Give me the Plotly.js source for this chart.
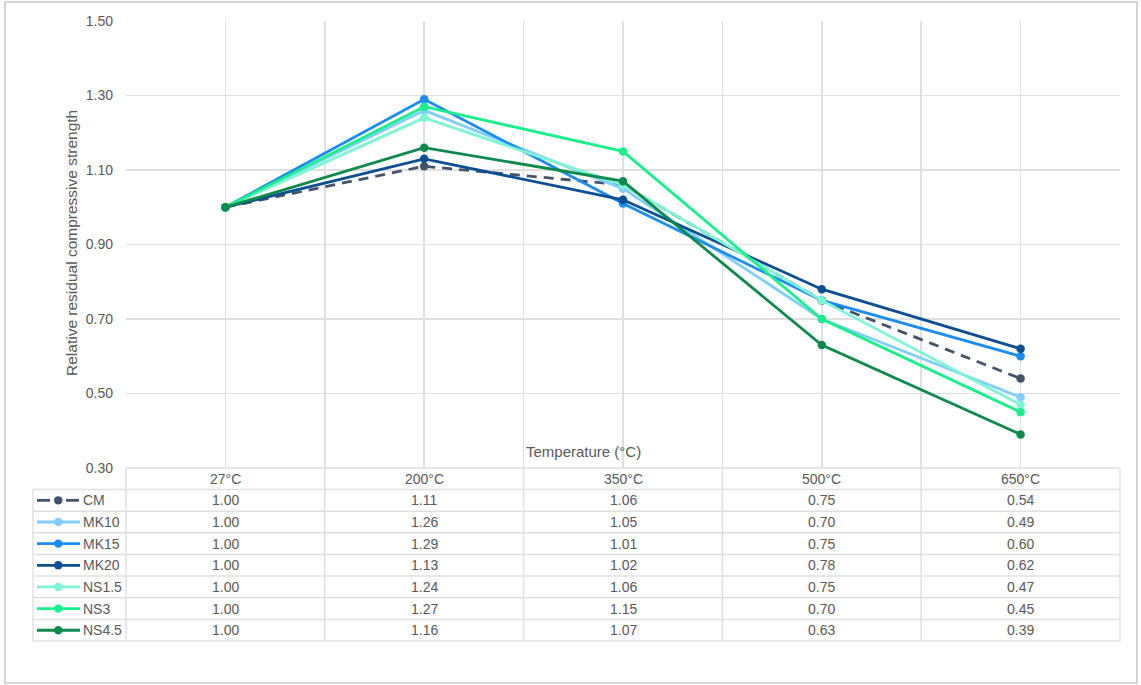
<!DOCTYPE html>
<html>
<head>
<meta charset="utf-8">
<script src="https://cdn.plot.ly/plotly-3.0.1.min.js"></script>
<style>html,body{margin:0;padding:0;background:#fff;}#chart{width:1141px;height:685px;}</style>
</head>
<body>
<div id="chart"></div>
<script>
// ---- data ----
const categories = ["27°C", "200°C", "350°C", "500°C", "650°C"];
const seriesNames = ["CM", "MK10", "MK15", "MK20", "NS1.5", "NS3", "NS4.5"];
const CM    = [1.00, 1.11, 1.06, 0.75, 0.54];
const MK10  = [1.00, 1.26, 1.05, 0.70, 0.49];
const MK15  = [1.00, 1.29, 1.01, 0.75, 0.60];
const MK20  = [1.00, 1.13, 1.02, 0.78, 0.62];
const NS1_5 = [1.00, 1.24, 1.06, 0.75, 0.47];
const NS3   = [1.00, 1.27, 1.15, 0.70, 0.45];
const NS4_5 = [1.00, 1.16, 1.07, 0.63, 0.39];
const yTicks = [0.30, 0.50, 0.70, 0.90, 1.10, 1.30, 1.50];

// ---- styles ----
const seriesValues = [CM, MK10, MK15, MK20, NS1_5, NS3, NS4_5];
const colors = ["#44546a", "#80cffa", "#1b8cf2", "#0c4f92", "#80f5d6", "#1aef8b", "#0e8a4c"];
const dashes = ["10px,7px", "solid", "solid", "solid", "solid", "solid", "solid"];

const W = 1141, H = 685;
const X = p => p / W;
const Y = p => 1 - p / H;
const font = "Liberation Sans, Arial, Helvetica, sans-serif";
const txtColor = "#595959";
const gridColor = "#e0e0e0";
const fs = 14;

const xIdx = categories.map((c, i) => i);

const traces = seriesValues.map((vals, i) => ({
  type: "scatter",
  mode: "lines+markers",
  name: seriesNames[i],
  x: xIdx,
  y: vals,
  line: {color: colors[i], width: 2.8, dash: dashes[i]},
  marker: {color: colors[i], size: 8.5},
  showlegend: false,
  hoverinfo: "x+y+name"
}));

const plotL = 126, plotR = 1120, plotT = 21, plotB = 468;
const tableL = 33, headerB = 489.5, rowH = 21.65;
const nRows = seriesNames.length;
const tableB = headerB + nRows * rowH;
const colW = (plotR - plotL) / categories.length;

const shapes = [];
const annotations = [];

// outer frame
shapes.push({type: "rect", xref: "paper", yref: "paper", x0: X(5), x1: X(1137), y0: Y(683), y1: Y(2),
  line: {color: "#c8c8c8", width: 1.5}});

// table horizontal lines
shapes.push({type: "line", xref: "paper", yref: "paper", x0: X(plotL), x1: X(plotR), y0: Y(plotB), y1: Y(plotB), line: {color: gridColor, width: 1.5}});
for (let r = 0; r <= nRows; r++) {
  const yy = headerB + r * rowH;
  shapes.push({type: "line", xref: "paper", yref: "paper", x0: X(tableL), x1: X(plotR), y0: Y(yy), y1: Y(yy), line: {color: gridColor, width: 1.5}});
}
// table vertical lines
shapes.push({type: "line", xref: "paper", yref: "paper", x0: X(tableL), x1: X(tableL), y0: Y(headerB), y1: Y(tableB), line: {color: gridColor, width: 1.5}});
for (let c = 0; c <= categories.length; c++) {
  const xx = plotL + c * colW;
  shapes.push({type: "line", xref: "paper", yref: "paper", x0: X(xx), x1: X(xx), y0: Y(plotB), y1: Y(tableB), line: {color: gridColor, width: 1.5}});
}

// header labels
categories.forEach((c, j) => {
  annotations.push({xref: "x", yref: "paper", x: j, y: Y((plotB + headerB) / 2 + 0.5), text: c, showarrow: false,
    xanchor: "center", yanchor: "middle", font: {family: font, size: fs, color: txtColor}});
});

// rows
seriesNames.forEach((nm, i) => {
  const cy = headerB + i * rowH + rowH / 2;
  // legend key
  if (i === 0) {
    shapes.push({type: "line", xref: "paper", yref: "paper", x0: X(37), x1: X(50), y0: Y(cy), y1: Y(cy),
      line: {color: colors[i], width: 2.8}});
    shapes.push({type: "line", xref: "paper", yref: "paper", x0: X(66), x1: X(79), y0: Y(cy), y1: Y(cy),
      line: {color: colors[i], width: 2.8}});
  } else {
    shapes.push({type: "line", xref: "paper", yref: "paper", x0: X(37), x1: X(80), y0: Y(cy), y1: Y(cy),
      line: {color: colors[i], width: 2.8}});
  }
  shapes.push({type: "circle", xref: "paper", yref: "paper", x0: X(54), x1: X(62.5), y0: Y(cy + 4.2), y1: Y(cy - 4.2),
    fillcolor: colors[i], line: {color: colors[i], width: 0}});
  annotations.push({xref: "paper", yref: "paper", x: X(81), y: Y(cy), text: nm, showarrow: false,
    xanchor: "left", yanchor: "middle", font: {family: font, size: fs, color: txtColor}});
  seriesValues[i].forEach((v, j) => {
    annotations.push({xref: "x", yref: "paper", x: j, y: Y(cy), text: v.toFixed(2), showarrow: false,
      xanchor: "center", yanchor: "middle", font: {family: font, size: fs, color: txtColor}});
  });
});

// axis titles
annotations.push({xref: "paper", yref: "paper", x: X(583), y: Y(451), text: "Temperature (°C)", showarrow: false,
  xanchor: "center", yanchor: "middle", font: {family: font, size: 15, color: txtColor}});
annotations.push({xref: "paper", yref: "paper", x: X(71), y: Y(243), text: "Relative residual compressive strength", showarrow: false,
  textangle: -90, xanchor: "center", yanchor: "middle", font: {family: font, size: 15.5, color: txtColor}});

const layout = {
  width: W, height: H,
  margin: {l: 0, r: 0, t: 0, b: 0},
  paper_bgcolor: "#ffffff",
  plot_bgcolor: "#ffffff",
  showlegend: false,
  xaxis: {
    domain: [X(plotL), X(plotR)],
    range: [-0.5, categories.length - 0.5],
    tick0: -0.5, dtick: 0.5,
    showticklabels: false, ticks: "",
    showgrid: true, gridcolor: gridColor, gridwidth: 1.5,
    zeroline: false, showline: false, fixedrange: true
  },
  yaxis: {
    domain: [Y(plotB), Y(plotT)],
    range: [yTicks[0], yTicks[yTicks.length - 1]],
    tickmode: "array", tickvals: yTicks, ticktext: yTicks.map(v => v.toFixed(2)),
    ticks: "", ticklabelstandoff: 12,
    tickfont: {family: font, size: fs, color: txtColor},
    showgrid: true, gridcolor: gridColor, gridwidth: 1.5,
    zeroline: false, showline: false, fixedrange: true
  },
  shapes: shapes,
  annotations: annotations
};

Plotly.newPlot("chart", traces, layout, {displayModeBar: false, staticPlot: true});
</script>
</body>
</html>
